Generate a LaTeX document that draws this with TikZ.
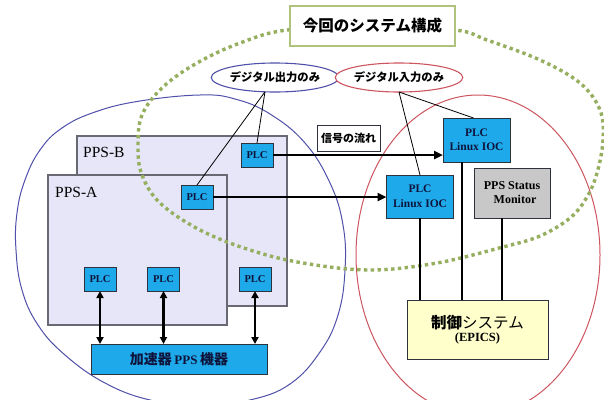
\documentclass[tikz,border=0pt]{standalone}
\usepackage{fontspec}
\setmainfont{Liberation Serif}
\newfontfamily\jp{Noto Sans CJK JP}
\usetikzlibrary{shapes.geometric,arrows.meta}
\definecolor{plcblue}{RGB}{30,170,234}
\definecolor{boxborder}{RGB}{45,50,60}
\definecolor{navytext}{RGB}{15,20,60}
\definecolor{ppsfill}{RGB}{230,230,248}
\definecolor{ppsborder}{RGB}{105,105,115}
\definecolor{monfill}{RGB}{200,200,200}
\definecolor{ctrlfill}{RGB}{255,255,204}
\definecolor{dotgreen}{RGB}{150,175,95}
\definecolor{titleborder}{RGB}{175,195,125}
\definecolor{circblue}{RGB}{80,80,170}
\definecolor{circred}{RGB}{205,85,95}
\tikzset{
  box/.style={rectangle, inner sep=0pt, outer sep=0pt, line width=1pt},
  ppsbox/.style={box, draw=ppsborder, fill=ppsfill, line width=1.4pt},
  ppslabel/.style={inner sep=0pt, font=\fontsize{15.5}{17}\selectfont},
  plcbox/.style={box, draw=boxborder, fill=plcblue, minimum width=32pt, minimum height=24pt,
    font=\fontsize{10.5}{12}\selectfont\bfseries, text=navytext},
  iocbox/.style={box, draw=boxborder, fill=plcblue, minimum width=67pt, minimum height=44pt,
    align=center, font=\fontsize{11.5}{14.5}\selectfont\bfseries, text=navytext},
  monbox/.style={box, draw=boxborder, fill=monfill, minimum width=76pt, minimum height=50pt,
    align=center, font=\fontsize{12}{14}\selectfont\bfseries, text=black},
  ctrlbox/.style={box, draw=boxborder, fill=ctrlfill, minimum width=141pt, minimum height=59pt,
    align=center},
  accelbox/.style={box, draw=boxborder, fill=plcblue, minimum width=176pt, minimum height=30pt,
    text=navytext},
  sigbox/.style={box, draw=boxborder, fill=white, minimum width=63pt, minimum height=26pt,
    font=\jp\bfseries\fontsize{11}{13}\selectfont},
  titlebox/.style={box, draw=titleborder, fill=white, line width=1.3pt, minimum width=165pt,
    minimum height=40pt, font=\jp\bfseries\fontsize{15.5}{18}\selectfont},
  tagell/.style={ellipse, inner sep=0pt, outer sep=0pt, fill=white, line width=1.1pt,
    minimum width=108pt, minimum height=29pt, font=\jp\bfseries\fontsize{11.3}{13}\selectfont},
  thinline/.style={draw=black, line width=0.8pt},
  flow/.style={draw=black, line width=2.8pt, -{Triangle[length=9pt,width=8pt]}},
  bidir/.style={draw=black, line width=2.2pt, {Triangle[length=7pt,width=7pt]}-{Triangle[length=7pt,width=7pt]}},
  vline/.style={draw=black, line width=1.4pt},
  dotring/.style={draw=dotgreen, line width=3.4pt, dash pattern=on 3.4pt off 3.4pt},
}
\begin{document}
\begin{tikzpicture}[x=1pt,y=-1pt]
\path[use as bounding box, fill=white] (0,0) rectangle (604,399);

% large blue and red regions
\draw[circblue, line width=1pt] plot[smooth cycle, tension=0.7] coordinates {
 (200,95) (140,101) (95,112) (62,128) (40,150) (25,180) (17,213) (16,250) (22,290)
 (38,325) (65,355) (105,383) (150,400) (200,406) (250,400) (290,384) (320,352)
 (338,315) (345,270) (343,225) (330,183) (305,143) (270,114) (235,99)};
\draw[circred, line width=1pt] (478,255) ellipse [x radius=122, y radius=160];

% PPS boxes
\node[ppsbox, minimum width=210pt, minimum height=170pt] (ppsb) at (182,221) {};
\node[ppsbox, minimum width=179pt, minimum height=150pt] (ppsa) at (137.5,250) {};
\node[ppslabel, anchor=west] (lblb) at (83,152) {PPS-B};
\node[ppslabel, anchor=west] (lbla) at (55,192) {PPS-A};

% green dotted ring
\draw[dotring] plot[smooth cycle, tension=0.6] coordinates {
 (287,30) (370,26) (455,30) (487,40) (540,60) (580,83) (600,110) (603,140)
 (597,173) (587,197) (570,218) (540,236) (503,247) (437,263) (370,270) (303,263)
 (250,250) (200,230) (160,203) (142,175) (138,147) (142,115) (163,87) (197,63) (240,43)};

% title
\node[titlebox] (title) at (372.5,26) {今回のシステム構成};

% tag ellipses
\node[tagell, draw=circblue] (tagout) at (275,77.5) {デジタル出力のみ};
\node[tagell, draw=circred] (tagin) at (399,77.5) {デジタル入力のみ};

% PLC boxes
\node[plcbox] (plcb) at (257,155) {PLC};
\node[plcbox] (plca) at (197,197) {PLC};
\node[plcbox] (plc1) at (100,279) {PLC};
\node[plcbox] (plc2) at (163.5,279) {PLC};
\node[plcbox] (plc3) at (255,279) {PLC};

% accelerator equipment
\node[accelbox] (accel) at (179,359) {{\jp\bfseries\fontsize{14}{16}\selectfont 加速器} {\bfseries\fontsize{13}{16}\selectfont PPS} {\jp\bfseries\fontsize{14}{16}\selectfont 機器}};

% IOCs, monitor, control system
\node[iocbox] (iocu) at (476.5,140) {PLC\\Linux IOC};
\node[iocbox, minimum height=43pt] (iocl) at (420,196.5) {PLC\\Linux IOC};
\node[monbox] (mon) at (512,193) {PPS Status\\\ \ Monitor};
\node[ctrlbox] (ctrl) at (477.5,329.5) {{\jp\fontsize{15.5}{19}\selectfont{\bfseries 制御}システム}\\[1pt]{\bfseries\fontsize{12.5}{15}\selectfont (EPICS)}};

% signal flow label
\node[sigbox] (sig) at (348.5,138) {信号の流れ};

% thin connectors from tags
\draw[thinline] (tagout.235) -- (plcb.north);
\draw[thinline] (tagout.235) -- (plca.north);
\draw[thinline] (tagin.south) -- ([xshift=-3pt]iocu.north);
\draw[thinline] (tagin.south) -- (iocl.north);

% signal arrows
\draw[flow] (plcb.east) -- (plcb.east -| iocu.west);
\draw[flow] (plca.east) -- (plca.east -| iocl.west);

% PLC <-> accelerator
\draw[bidir] (plc1.south) -- (plc1.south |- accel.north);
\draw[bidir] (plc2.south) -- (plc2.south |- accel.north);
\draw[bidir] (plc3.south) -- (plc3.south |- accel.north);

% to control system
\draw[vline] (iocl.south) -- (iocl.south |- ctrl.north);
\draw[vline] ([xshift=-14.5pt]iocu.south) -- ([xshift=-14.5pt]iocu.south |- ctrl.north);
\draw[vline] ([xshift=-10pt]mon.south) -- ([xshift=-10pt]mon.south |- ctrl.north);
\end{tikzpicture}
\end{document}
